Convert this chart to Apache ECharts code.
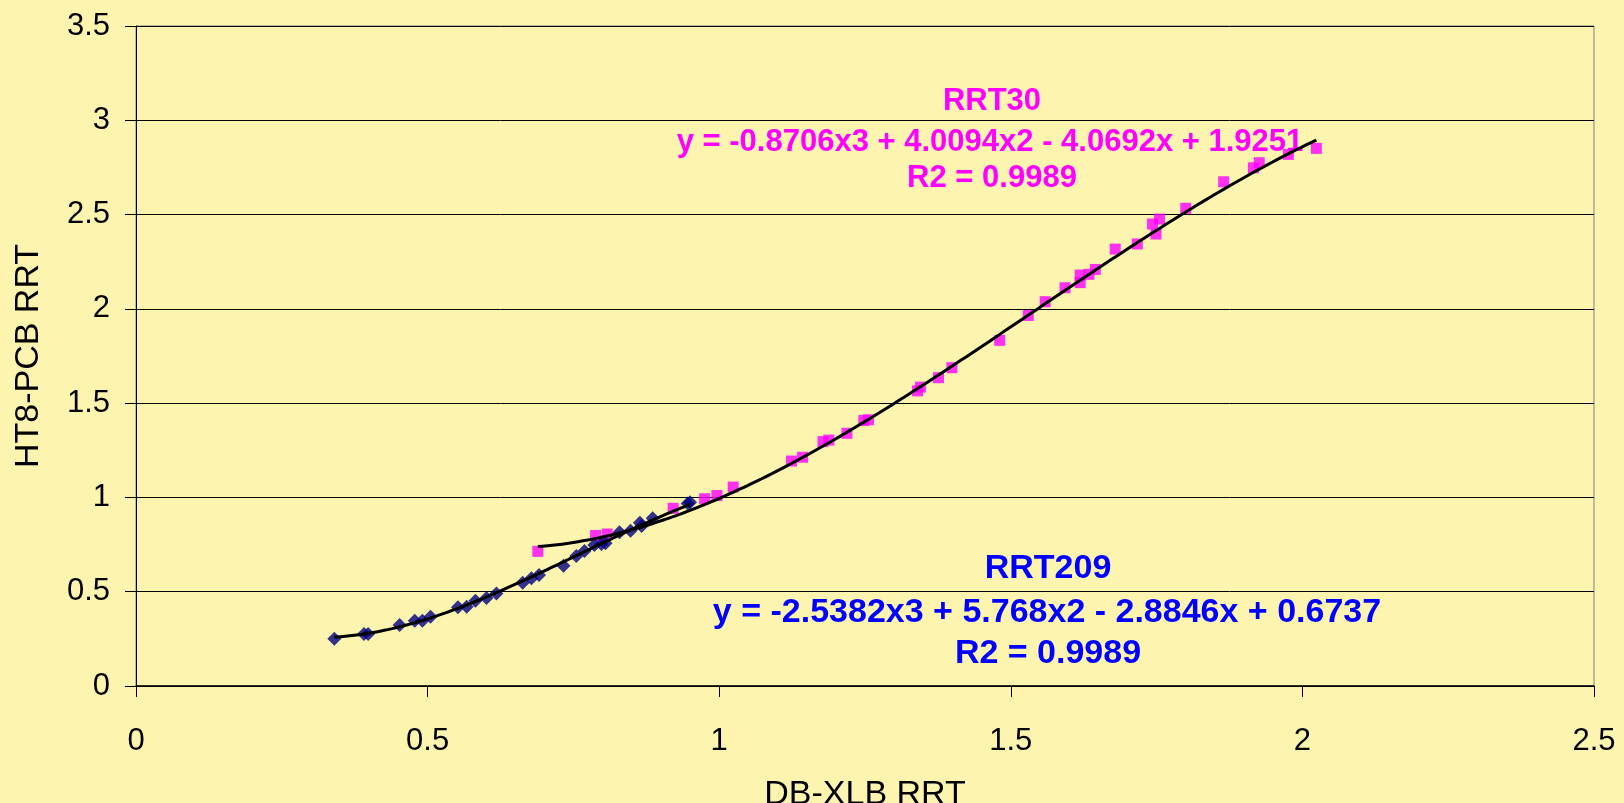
<!DOCTYPE html>
<html>
<head>
<meta charset="utf-8">
<script src="https://cdn.jsdelivr.net/npm/echarts@6/dist/echarts.min.js"></script>
<style>
html,body{margin:0;padding:0;background:#FDF4B0;}
#chart{width:1624px;height:803px;}
</style>
</head>
<body>
<div id="chart"></div>
<script>
// RRT209 (blue diamonds)
const rrt209X = [0.340,0.391,0.398,0.452,0.478,0.491,0.505,0.552,0.567,0.582,0.601,0.618,0.663,0.678,0.691,0.733,0.755,0.769,0.786,0.798,0.805,0.829,0.848,0.864,0.867,0.886,0.946,0.950];
const rrt209Y = [0.250,0.276,0.276,0.323,0.346,0.346,0.367,0.417,0.420,0.452,0.467,0.491,0.548,0.571,0.589,0.638,0.689,0.716,0.748,0.753,0.757,0.815,0.823,0.866,0.848,0.889,0.968,0.975];
// RRT30 (magenta squares)
const rrt30X = [0.689,0.788,0.808,0.921,0.975,0.996,1.024,1.124,1.143,1.178,1.188,1.219,1.248,1.256,1.340,1.345,1.376,1.399,1.481,1.530,1.559,1.593,1.619,1.619,1.634,1.645,1.679,1.717,1.743,1.749,1.755,1.800,1.865,1.916,1.926,1.976,2.024];
const rrt30Y = [0.714,0.798,0.806,0.942,0.993,1.010,1.055,1.193,1.213,1.296,1.304,1.340,1.408,1.412,1.565,1.585,1.635,1.688,1.833,1.965,2.038,2.112,2.139,2.179,2.183,2.209,2.317,2.344,2.450,2.397,2.476,2.533,2.674,2.748,2.775,2.819,2.851];
// Polynomial trendline coefficients [x^3, x^2, x, const] as printed on the chart
const rrt30Coef = [-0.8706, 4.0094, -4.0692, 1.9251];
const rrt209Coef = [-2.5382, 5.768, -2.8846, 0.6737];
// Axis ticks
const xTicks = [0, 0.5, 1, 1.5, 2, 2.5];
const yTicks = [0, 0.5, 1, 1.5, 2, 2.5, 3, 3.5];
// Text
const xTitle = 'DB-XLB RRT';
const yTitle = 'HT8-PCB RRT';
const rrt30Label = ['RRT30', 'y = -0.8706x3 + 4.0094x2 - 4.0692x + 1.9251', 'R2 = 0.9989'];
const rrt209Label = ['RRT209', 'y = -2.5382x3 + 5.768x2 - 2.8846x + 0.6737', 'R2 = 0.9989'];

function pairs(xs, ys){ return xs.map((x,i)=>[x, ys[i]]); }
function trend(coef, xs){
  const lo = Math.min(...xs), hi = Math.max(...xs), n = 80, out = [];
  for (let i=0;i<=n;i++){
    const x = lo + (hi-lo)*i/n;
    out.push([x, ((coef[0]*x + coef[1])*x + coef[2])*x + coef[3]]);
  }
  return out;
}

const chart = echarts.init(document.getElementById('chart'));
const FONT = '"Liberation Sans", Arial, sans-serif';
const bg = '#FDF4B0';
const magFont = 'bold 31px "Liberation Sans", Arial';
const bluFont = 'bold 34px "Liberation Sans", Arial';
chart.setOption({
  backgroundColor: bg,
  animation: false,
  textStyle: {fontFamily: FONT},
  grid: {left:136, right:30, top:26, bottom:117, containLabel:false, outerBoundsMode:'none', show:true, backgroundColor:bg, borderColor:'#808080', borderWidth:1},
  xAxis: {
    type:'value', min:xTicks[0], max:xTicks[xTicks.length-1], interval:0.5,
    axisLine:{show:true, onZero:false, lineStyle:{color:'#000', width:1.5}},
    axisTick:{show:true, length:11, lineStyle:{color:'#000'}},
    axisLabel:{color:'#000', fontSize:31, fontFamily:FONT, margin:40},
    splitLine:{show:false},
    name:xTitle, nameLocation:'middle', nameGap:92,
    nameTextStyle:{color:'#000', fontSize:34, fontFamily:FONT}
  },
  yAxis: {
    type:'value', min:yTicks[0], max:yTicks[yTicks.length-1], interval:0.5,
    axisLine:{show:true, onZero:false, lineStyle:{color:'#000', width:1}},
    axisTick:{show:true, length:11, lineStyle:{color:'#000'}},
    axisLabel:{color:'#000', fontSize:31, fontFamily:FONT, margin:26},
    splitLine:{show:true, lineStyle:{color:'#000', width:1}},
    name:yTitle, nameLocation:'middle', nameGap:90, nameRotate:90,
    nameTextStyle:{color:'#000', fontSize:34, fontFamily:FONT}
  },
  series: [
    {type:'scatter', name:'RRT30', data:pairs(rrt30X, rrt30Y), symbol:'rect', symbolSize:11, itemStyle:{color:'#FF00FF'}, z:2},
    {type:'scatter', name:'RRT209', data:pairs(rrt209X, rrt209Y), symbol:'diamond', symbolSize:14, itemStyle:{color:'#000080'}, z:3},
    {type:'line', data:trend(rrt30Coef, rrt30X), showSymbol:false, smooth:true, lineStyle:{color:'#000', width:3}, z:4},
    {type:'line', data:trend(rrt209Coef, rrt209X), showSymbol:false, smooth:true, lineStyle:{color:'#000', width:3}, z:4}
  ],
  graphic: [
    {type:'text', x:992, y:101, style:{text:rrt30Label[0], fill:'#FF00FF', font:magFont, textAlign:'center', textVerticalAlign:'middle'}},
    {type:'text', x:990, y:142, style:{text:rrt30Label[1], fill:'#FF00FF', font:magFont, textAlign:'center', textVerticalAlign:'middle'}},
    {type:'text', x:992, y:178, style:{text:rrt30Label[2], fill:'#FF00FF', font:magFont, textAlign:'center', textVerticalAlign:'middle'}},
    {type:'text', x:1048, y:569, style:{text:rrt209Label[0], fill:'#0000FF', font:bluFont, textAlign:'center', textVerticalAlign:'middle'}},
    {type:'text', x:1047, y:613, style:{text:rrt209Label[1], fill:'#0000FF', font:bluFont, textAlign:'center', textVerticalAlign:'middle'}},
    {type:'text', x:1048, y:654, style:{text:rrt209Label[2], fill:'#0000FF', font:bluFont, textAlign:'center', textVerticalAlign:'middle'}}
  ]
});
</script>
</body>
</html>
